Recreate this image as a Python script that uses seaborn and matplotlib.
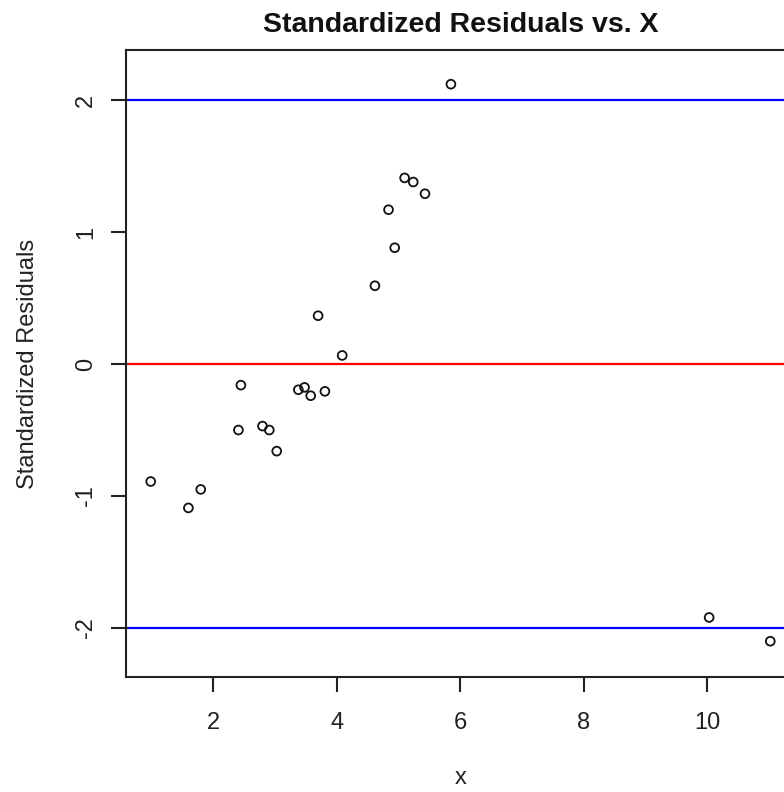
import matplotlib
matplotlib.use("Agg")
import matplotlib.pyplot as plt
import seaborn as sns
import pandas as pd

# Data
x_values = [0.99, 1.60, 1.80, 2.41, 2.45, 2.80, 2.91, 3.03, 3.38, 3.48, 3.58, 3.70,
            3.81, 4.09, 4.62, 4.84, 4.94, 5.10, 5.24, 5.43, 5.85, 10.03, 11.02]
std_resid = [-0.89, -1.09, -0.95, -0.50, -0.16, -0.47, -0.50, -0.66, -0.195, -0.177,
             -0.24, 0.366, -0.207, 0.065, 0.593, 1.169, 0.881, 1.41, 1.379, 1.29,
             2.12, -1.92, -2.10]
x_ticks = [2, 4, 6, 8, 10]
y_ticks = [-2, -1, 0, 1, 2]
ref_lines = [2, 0, -2]
ref_colors = ["blue", "red", "blue"]

df = pd.DataFrame({"x": x_values, "resid": std_resid})

sns.set_style("white")
plt.rcParams["font.family"] = ["Liberation Sans", "DejaVu Sans"]

W, H = 784, 792
fig = plt.figure(figsize=(W / 100, H / 100), dpi=100)
ax = fig.add_axes([126 / W, 115 / H, 669 / W, 627 / H])

sns.scatterplot(data=df, x="x", y="resid", ax=ax, marker="o", s=40,
                facecolor="none", edgecolor="#111111", linewidth=1.3, zorder=3)

for yv, c in zip(ref_lines, ref_colors):
    ax.axhline(yv, color=c, lw=1.6, zorder=2)

ax.set_xlim(0.59, 11.42)
ax.set_ylim(-2.371, 2.379)
ax.set_xticks(x_ticks)
ax.set_yticks(y_ticks)
ax.set_xticklabels([str(t) for t in x_ticks])
ax.set_yticklabels([str(t) for t in y_ticks], rotation=90, va="center")

for sp in ax.spines.values():
    sp.set_visible(True)
    sp.set_color("#222222")
    sp.set_linewidth(1.5)

ax.tick_params(axis="both", which="major", direction="out", length=10.8, width=1.5,
               color="#222222", labelsize=17, labelcolor="#222222",
               bottom=True, left=True, right=False, top=False)
ax.tick_params(axis="x", pad=14.5)
ax.tick_params(axis="y", pad=10)

ax.set_xlabel("x", fontsize=17, color="#222222", labelpad=24)
ax.set_ylabel("Standardized Residuals", fontsize=17, color="#222222", labelpad=26)
ax.set_title("Standardized Residuals vs. X", fontsize=20.5, fontweight="bold",
             color="#111111", pad=13)

fig.savefig("out.png", dpi=100)
